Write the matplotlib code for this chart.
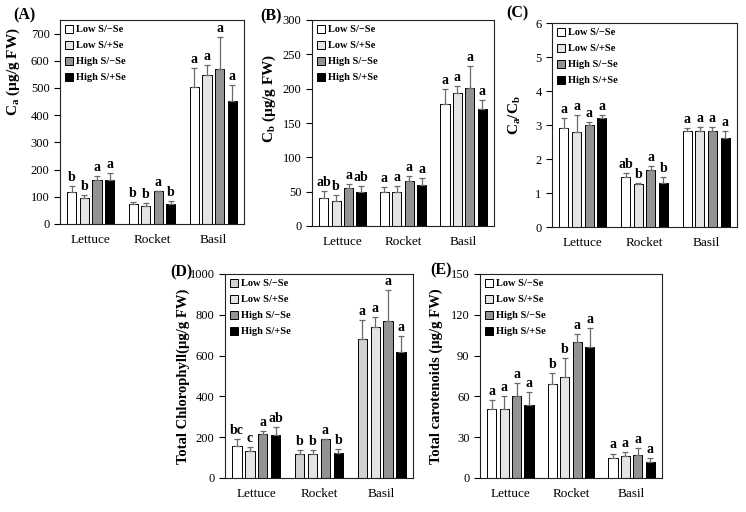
import matplotlib
matplotlib.use("Agg")
import matplotlib.pyplot as plt
import numpy as np
from matplotlib.patches import Patch

plt.rcParams["font.family"] = ["Liberation Serif", "DejaVu Serif"]
plt.rcParams["mathtext.default"] = "regular"

crops = ["Lettuce", "Rocket", "Basil"]
treatments = ["Low S/\u2212Se", "Low S/+Se", "High S/\u2212Se", "High S/+Se"]
bar_colors = ["#ffffff", "#e4e4e4", "#939393", "#000000"]

# values per treatment (rows) x crop (cols), with top of error bar
ca_mean = [[117, 72, 505], [97, 67, 547], [162, 120, 570], [162, 72, 452]]
ca_top = [[140, 80, 575], [107, 77, 583], [175, 122, 688], [187, 83, 510]]
ca_letters = [["b", "b", "a"], ["b", "b", "a"], ["a", "a", "a"], ["a", "b", "a"]]

cb_mean = [[41, 49, 178], [36, 49, 193], [55, 65, 201], [50, 59, 170]]
cb_top = [[51, 57, 200], [45, 58, 204], [61, 73, 233], [58, 70, 183]]
cb_letters = [["ab", "a", "a"], ["b", "a", "a"], ["a", "a", "a"], ["ab", "a", "a"]]

ratio_mean = [[2.9, 1.47, 2.82], [2.8, 1.27, 2.83], [3.0, 1.67, 2.82], [3.2, 1.28, 2.63]]
ratio_top = [[3.2, 1.6, 2.9], [3.3, 1.3, 2.95], [3.1, 1.78, 2.94], [3.3, 1.47, 2.83]]
ratio_letters = [["a", "ab", "a"], ["a", "b", "a"], ["a", "a", "a"], ["a", "b", "a"]]

chl_mean = [[155, 120, 683], [133, 117, 740], [215, 190, 770], [210, 125, 620]]
chl_top = [[190, 138, 775], [150, 138, 787], [232, 192, 920], [248, 143, 695]]
chl_letters = [["bc", "b", "a"], ["c", "b", "a"], ["a", "a", "a"], ["ab", "b", "a"]]

car_mean = [[51, 69, 15], [51, 74, 16], [60, 100, 17], [54, 96, 12]]
car_top = [[57, 77, 18], [60, 88, 19], [70, 106, 22], [63, 110, 15]]
car_letters = [["a", "b", "a"], ["a", "b", "a"], ["a", "a", "a"], ["a", "a", "a"]]

W, H = 746, 512
fig = plt.figure(figsize=(W / 100, H / 100), dpi=100)


def box(left, right, top, bottom):
    return [left / W, (H - bottom) / H, (right - left) / W, (bottom - top) / H]


def panel(rect, tag, tag_xy, mean, top, letters, ymax, tickmax, step, ylabel,
          label_xy, label_size=11, first_colors=None):
    ax = fig.add_axes(rect)
    x = np.arange(len(crops))
    width = 0.15
    offsets = (np.arange(4) - 1.5) * 0.205
    for i in range(4):
        colors = [bar_colors[i]] * len(crops)
        if i == 0 and first_colors is not None:
            colors = first_colors
        m = np.array(mean[i], dtype=float)
        t = np.array(top[i], dtype=float)
        ax.bar(x + offsets[i], m, width, color=colors, edgecolor="black",
               linewidth=0.7, zorder=2)
        ax.errorbar(x + offsets[i], m, yerr=[np.zeros_like(m), t - m], fmt="none",
                    ecolor="#6a6a6a", elinewidth=0.9, capsize=2.0, capthick=0.9,
                    zorder=3)
        for j in range(len(crops)):
            ax.text(x[j] + offsets[i], t[j] + ymax * 0.01, letters[i][j],
                    ha="center", va="bottom", fontsize=10, fontweight="bold")
    ax.set_xlim(-0.5, 2.5)
    ax.set_ylim(0, ymax)
    ticks = np.arange(0, tickmax + step / 2, step)
    ax.set_yticks(ticks)
    ax.set_yticklabels(["{:g}".format(v) for v in ticks])
    ax.set_xticks(x)
    ax.set_xticklabels(crops)
    ax.tick_params(axis="x", length=0, pad=7, labelsize=9.5)
    ax.tick_params(axis="y", direction="out", length=4, width=0.8, labelsize=9)
    for s in ax.spines.values():
        s.set_linewidth(0.8)
        s.set_color("#222222")
    ax.set_ylabel(ylabel, fontsize=label_size, fontweight="bold")
    ax.yaxis.set_label_coords(*label_xy)
    handles = []
    for i, lab in enumerate(treatments):
        fc = bar_colors[i]
        if i == 0 and first_colors is not None:
            fc = first_colors[-1]
        handles.append(Patch(facecolor=fc, edgecolor="black", linewidth=0.7, label=lab))
    ax.legend(handles=handles, loc="upper left", frameon=False,
              prop={"weight": "bold", "size": 7.5}, handlelength=0.8,
              handleheight=0.8, handletextpad=0.25, labelspacing=0.62,
              borderaxespad=0.35, borderpad=0.1)
    fig.text(tag_xy[0] / W, 1 - tag_xy[1] / H, tag, fontsize=11.5, fontweight="bold",
             ha="left", va="center")
    return ax


panel(box(60, 244, 20, 224), "(A)", (13, 15), ca_mean, ca_top, ca_letters,
      750, 700, 100, "C$_a$ (\u00b5g/g FW)", (-0.207, 0.745))
panel(box(312, 494, 20, 226), "(B)", (260, 16), cb_mean, cb_top, cb_letters,
      300, 300, 50, "C$_b$ (\u00b5g/g FW)", (-0.187, 0.62))
panel(box(552, 737, 23, 227), "(C)", (506, 13), ratio_mean, ratio_top, ratio_letters,
      6, 6, 1, "C$_a$/C$_b$", (-0.157, 0.55))
panel(box(225, 413, 274, 478), "(D)", (170, 272), chl_mean, chl_top, chl_letters,
      1000, 1000, 200, "Total Chlorophyll(\u00b5g/g FW)", (-0.186, 0.5),
      label_size=10.5, first_colors=["#ffffff", "#d2d2d2", "#d2d2d2"])
panel(box(480, 662, 274, 478), "(E)", (430, 270), car_mean, car_top, car_letters,
      150, 150, 30, "Total carotenoids (\u00b5g/g FW)", (-0.203, 0.5),
      label_size=10.5)

fig.savefig("out.png", dpi=100)
